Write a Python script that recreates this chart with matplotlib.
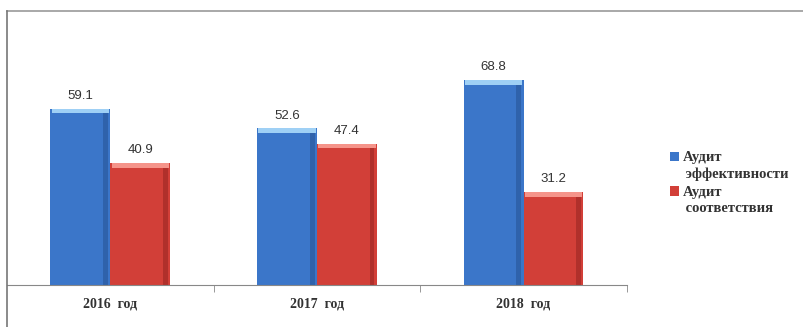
import matplotlib
matplotlib.use("Agg")
import matplotlib.pyplot as plt
from matplotlib.lines import Line2D
from matplotlib.patches import Rectangle
from matplotlib.legend_handler import HandlerPatch
import numpy as np

categories = ["2016  год", "2017  год", "2018  год"]
efficiency = [59.1, 52.6, 68.8]
compliance = [40.9, 47.4, 31.2]
series_names = ["Аудит\n эффективности", "Аудит\n соответствия"]

blue, blue_top = "#3b76c9", "#9fd0f5"
red, red_top = "#d23f38", "#f5948a"

fig = plt.figure(figsize=(8.04, 3.27), dpi=100)
ax = fig.add_axes([0.0087, 0.128, 0.771, 0.84])

x = np.arange(len(categories))
w = 0.29
cap = 1.6

b1 = ax.bar(x - w / 2, efficiency, w, color=blue, edgecolor="none")
b2 = ax.bar(x + w / 2, compliance, w, color=red, edgecolor="none")
# light bevel on top of each bar
ax.bar(x - w / 2, cap, w * 0.96, bottom=np.array(efficiency) - cap, color=blue_top, edgecolor="none")
ax.bar(x + w / 2, cap, w * 0.96, bottom=np.array(compliance) - cap, color=red_top, edgecolor="none")
# darker right edge for a bit of depth
ax.bar(x - w / 2 + w * 0.42, np.array(efficiency) - cap, w * 0.08, color="#2f62ab", edgecolor="none")
ax.bar(x + w / 2 + w * 0.42, np.array(compliance) - cap, w * 0.08, color="#b0302b", edgecolor="none")

for xs, vals in ((x - w / 2, efficiency), (x + w / 2, compliance)):
    for xi, v in zip(xs, vals):
        ax.text(xi, v + 2.2, f"{v:.1f}", ha="center", va="bottom", fontsize=9.5,
                family="Liberation Sans", color="#333333")

ax.set_xlim(-0.5, 2.5)
ax.set_ylim(0, 92)
ax.set_yticks([])
ax.set_xticks(x)
ax.set_xticklabels(categories, family="Liberation Serif", fontweight="bold",
                   fontsize=10, color="#333333")
ax.set_xticks([0.5, 1.5, 2.5], minor=True)
ax.tick_params(axis="x", which="major", length=0, pad=9)
ax.tick_params(axis="x", which="minor", length=5, color="#888888", direction="out")
for s in ("top", "right", "left"):
    ax.spines[s].set_visible(False)
ax.spines["bottom"].set_color("#888888")

# outer frame (top and left)
fig.add_artist(Line2D([0.0087, 1.0], [0.967, 0.967], color="#9a9a9a", lw=1.2))
fig.add_artist(Line2D([0.0087, 0.0087], [0.0, 0.967], color="#777777", lw=1.2))


# legend square sits next to the first line of the two-line label
def top_square(legend, orig_handle, xdescent, ydescent, width, height, fontsize):
    return Rectangle((-xdescent, -ydescent + 0.5 * 1.3 * fontsize), width, height)


leg = fig.legend(handles=[b1.patches[0], b2.patches[0]], labels=series_names,
                 loc="center left", bbox_to_anchor=(0.817, 0.44),
                 frameon=False, handlelength=0.6, handleheight=0.6, handletextpad=0.25,
                 labelspacing=0.35, prop={"family": "Liberation Serif", "weight": "bold", "size": 10.5},
                 handler_map={Rectangle: HandlerPatch(patch_func=top_square)})
for t in leg.get_texts():
    t.set_color("#333333")
    t.set_linespacing(1.3)

fig.savefig("out.png", dpi=100)
